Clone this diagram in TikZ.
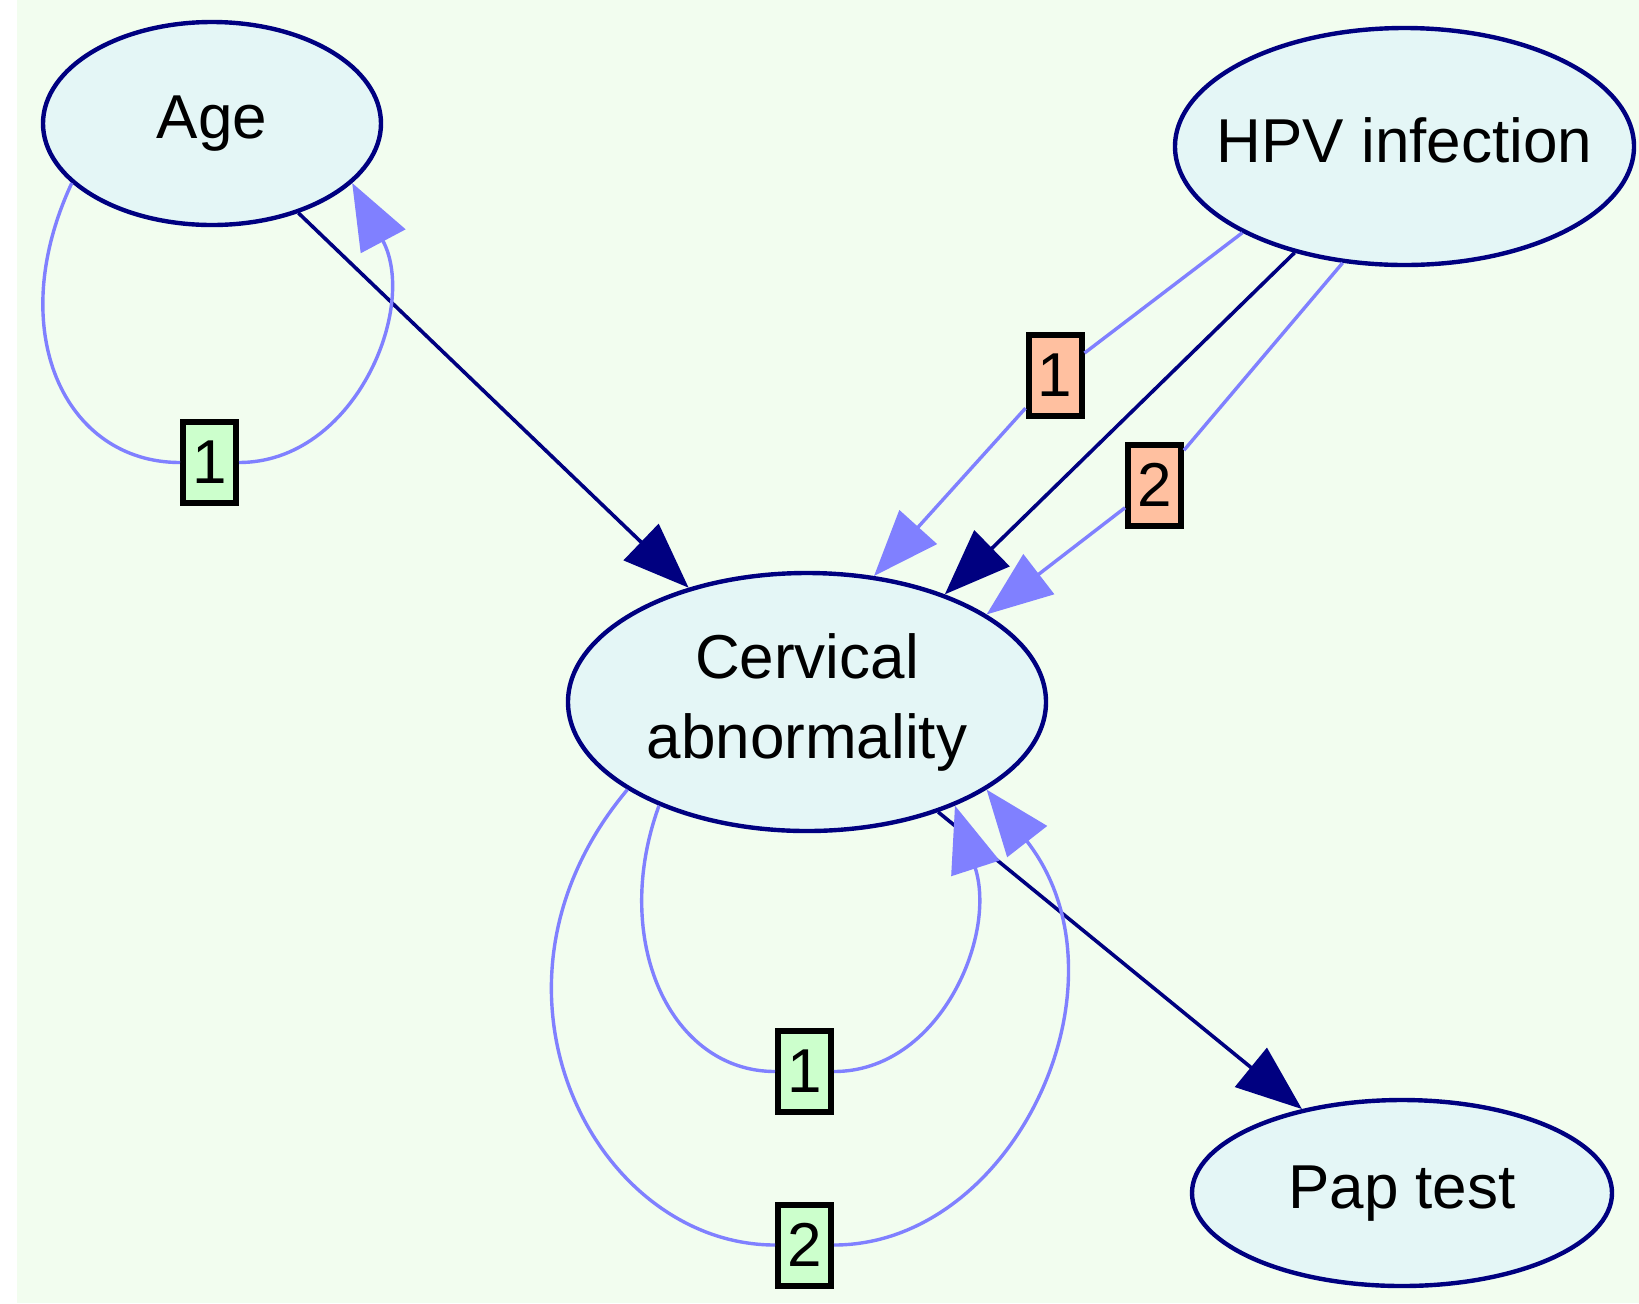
\documentclass[tikz,border=0pt]{standalone}
\usepackage{fontspec}
\setmainfont{Liberation Sans}
\usetikzlibrary{shapes.geometric,arrows.meta}
\definecolor{bggreen}{HTML}{F2FDEF}
\definecolor{nodefill}{HTML}{E4F6F6}
\definecolor{edgenavy}{HTML}{000080}
\definecolor{lagblue}{HTML}{8080FF}
\definecolor{tagmint}{HTML}{CCFFCC}
\definecolor{tagpeach}{HTML}{FFC0A0}
\begin{document}
\begin{tikzpicture}[x=0.5pt,y=0.5pt,
    every node/.style={font=\fontsize{31}{40}\selectfont},
    var/.style={ellipse,draw=edgenavy,line width=2.2pt,fill=nodefill,
      inner sep=0pt,inner xsep=-15pt,text depth=6pt},
    tag/.style={draw=black,line width=3pt,inner sep=0pt,
      minimum width=26.5pt,minimum height=40.5pt},
    causal/.style={edgenavy,line width=1.8pt,-{Triangle[length=33pt,width=25pt]}},
    lagedge/.style={lagblue,line width=1.7pt,-{Triangle[length=33pt,width=25pt]}}]
  \useasboundingbox (0,0) rectangle (1639,-1303);
  \fill[white] (0,0) rectangle (1639,-1303);
  \fill[bggreen] (17,0) rectangle (1639,-1303);
  \draw
    (212,-123.5) node[var,minimum width=169pt,minimum height=101.5pt] (age){Age}
    (1404.5,-146.5) node[var,minimum width=229.5pt,minimum height=118.5pt] (hpv){HPV infection}
    (807,-702) node[var,minimum width=239pt,minimum height=129pt,align=center] (cerv){Cervical\\abnormality}
    (1402,-1193) node[var,minimum width=210pt,minimum height=93pt] (pap){Pap test};
  \draw
    (209.5,-462.5) node[tag,fill=tagmint] (a1){1}
    (1055,-375.5) node[tag,fill=tagpeach] (h1){1}
    (1154.5,-485) node[tag,fill=tagpeach] (h2){2}
    (804.5,-1071.5) node[tag,fill=tagmint] (c1){1}
    (804.5,-1245) node[tag,fill=tagmint] (c2){2};
  \begin{scope}[causal]
    \draw (age.-46) to (cerv.136);
    \draw (hpv.224) to (cerv.38);
    \draw (cerv.-40.5) to (pap.140.7);
  \end{scope}
  \begin{scope}[lagedge]
    \draw (hpv.208) -- (h1) -- (cerv.62);
    \draw (hpv.242) -- (h2) -- (cerv.26.6);
    \draw (age.203) to[out=245,in=180,out looseness=1.4,in looseness=0.98] (a1)
      to[out=0,in=-62,out looseness=0.98,in looseness=1.2] (age.-23);
    \draw (cerv.215) to[out=250,in=180,out looseness=1.27,in looseness=0.92] (c1)
      to[out=0,in=-72,out looseness=0.92,in looseness=1.2] (cerv.-35);
    \draw (cerv.206.5) to[out=230,in=180,out looseness=1.39,in looseness=0.96] (c2)
      to[out=0,in=-52,out looseness=0.96,in looseness=1.3] (cerv.-26.5);
  \end{scope}
\end{tikzpicture}
\end{document}
